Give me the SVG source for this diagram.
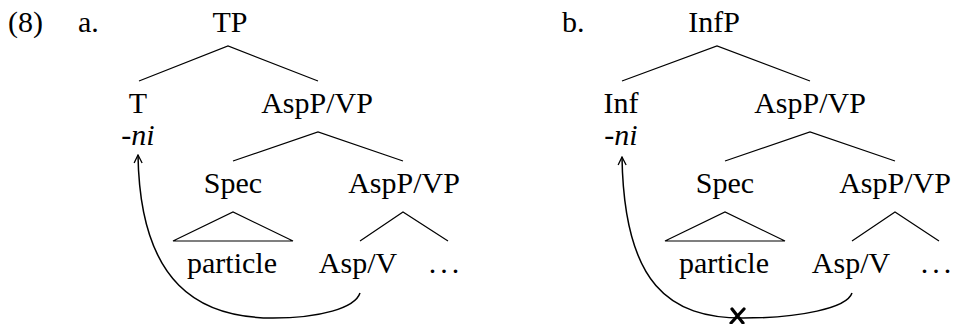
<svg xmlns="http://www.w3.org/2000/svg" width="957" height="324" viewBox="0 0 957 324">
<defs>
<style>
.e{fill:none;stroke:#000;stroke-width:1.2}
.mv{fill:none;stroke:#000;stroke-width:1.5}
.bx{fill:none;stroke:#000;stroke-width:3.2;stroke-linecap:round}
</style>
<marker id="ah" viewBox="0 0 10 10" refX="9" refY="5" markerWidth="10" markerHeight="10" markerUnits="userSpaceOnUse" orient="auto">
<path d="M1,1 L9,5 L1,9" fill="none" stroke="#000" stroke-width="1.3"/>
</marker>
</defs>
<g id="labels">
<text font-family="Liberation Serif" font-size="30" x="8" y="32">(8)</text>
<text font-family="Liberation Serif" font-size="30" x="78" y="32">a.</text>
<text font-family="Liberation Serif" font-size="30" x="562" y="32">b.</text>
</g>
<g id="a-TP"><text font-family="Liberation Serif" font-size="30" text-anchor="middle" x="230" y="32">TP</text></g>
<g id="a-T"><text font-family="Liberation Serif" font-size="30" text-anchor="middle" x="138" y="113">T</text><text font-family="Liberation Serif" font-size="30" text-anchor="middle" x="138" y="145">-<tspan font-style="italic">ni</tspan></text></g>
<g id="a-AspP1"><text font-family="Liberation Serif" font-size="30" text-anchor="middle" x="317" y="113">AspP/VP</text></g>
<g id="a-Spec"><text font-family="Liberation Serif" font-size="30" text-anchor="middle" x="233" y="193">Spec</text></g>
<g id="a-AspP2"><text font-family="Liberation Serif" font-size="30" text-anchor="middle" x="404" y="193">AspP/VP</text></g>
<g id="a-particle"><text font-family="Liberation Serif" font-size="30" text-anchor="middle" x="232" y="273">particle</text></g>
<g id="a-AspV"><text font-family="Liberation Serif" font-size="30" text-anchor="middle" x="358" y="273">Asp/V</text></g>
<g id="a-dots"><text font-family="Liberation Serif" font-size="30" letter-spacing="4" text-anchor="middle" x="446" y="273">...</text></g>
<g id="b-InfP"><text font-family="Liberation Serif" font-size="30" text-anchor="middle" x="714" y="32">InfP</text></g>
<g id="b-Inf"><text font-family="Liberation Serif" font-size="30" text-anchor="middle" x="621" y="113">Inf</text><text font-family="Liberation Serif" font-size="30" text-anchor="middle" x="621" y="145">-<tspan font-style="italic">ni</tspan></text></g>
<g id="b-AspP1"><text font-family="Liberation Serif" font-size="30" text-anchor="middle" x="810" y="113">AspP/VP</text></g>
<g id="b-Spec"><text font-family="Liberation Serif" font-size="30" text-anchor="middle" x="725" y="193">Spec</text></g>
<g id="b-AspP2"><text font-family="Liberation Serif" font-size="30" text-anchor="middle" x="895" y="193">AspP/VP</text></g>
<g id="b-particle"><text font-family="Liberation Serif" font-size="30" text-anchor="middle" x="724" y="273">particle</text></g>
<g id="b-AspV"><text font-family="Liberation Serif" font-size="30" text-anchor="middle" x="851" y="273">Asp/V</text></g>
<g id="b-dots"><text font-family="Liberation Serif" font-size="30" letter-spacing="4" text-anchor="middle" x="938" y="273">...</text></g>
<g id="connectors">
<path class="e" d="M139,81 L228,46 L318,81"/>
<path class="e" d="M233,161 L318,132 L403,161"/>
<path class="e" d="M173,241 L233,212 L293,241 Z"/>
<path class="e" d="M360,241 L403,212 L448,241"/>
<path class="mv" marker-end="url(#ah)" d="M360,293 C355,308 320,318 273,318 C200,318 140,285 138,155"/>
<path class="e" d="M622,81 L717,46 L810,81"/>
<path class="e" d="M725,161 L810,132 L895,161"/>
<path class="e" d="M665,241 L725,212 L785,241 Z"/>
<path class="e" d="M852,241 L895,212 L939,241"/>
<path class="mv" marker-end="url(#ah)" d="M852,293 C847,308 800,318 743,318 C670,318 624,285 622,157"/>
<path class="bx" d="M732,309 L743,323 M744,309 L731,323"/>
</g>
</svg>
